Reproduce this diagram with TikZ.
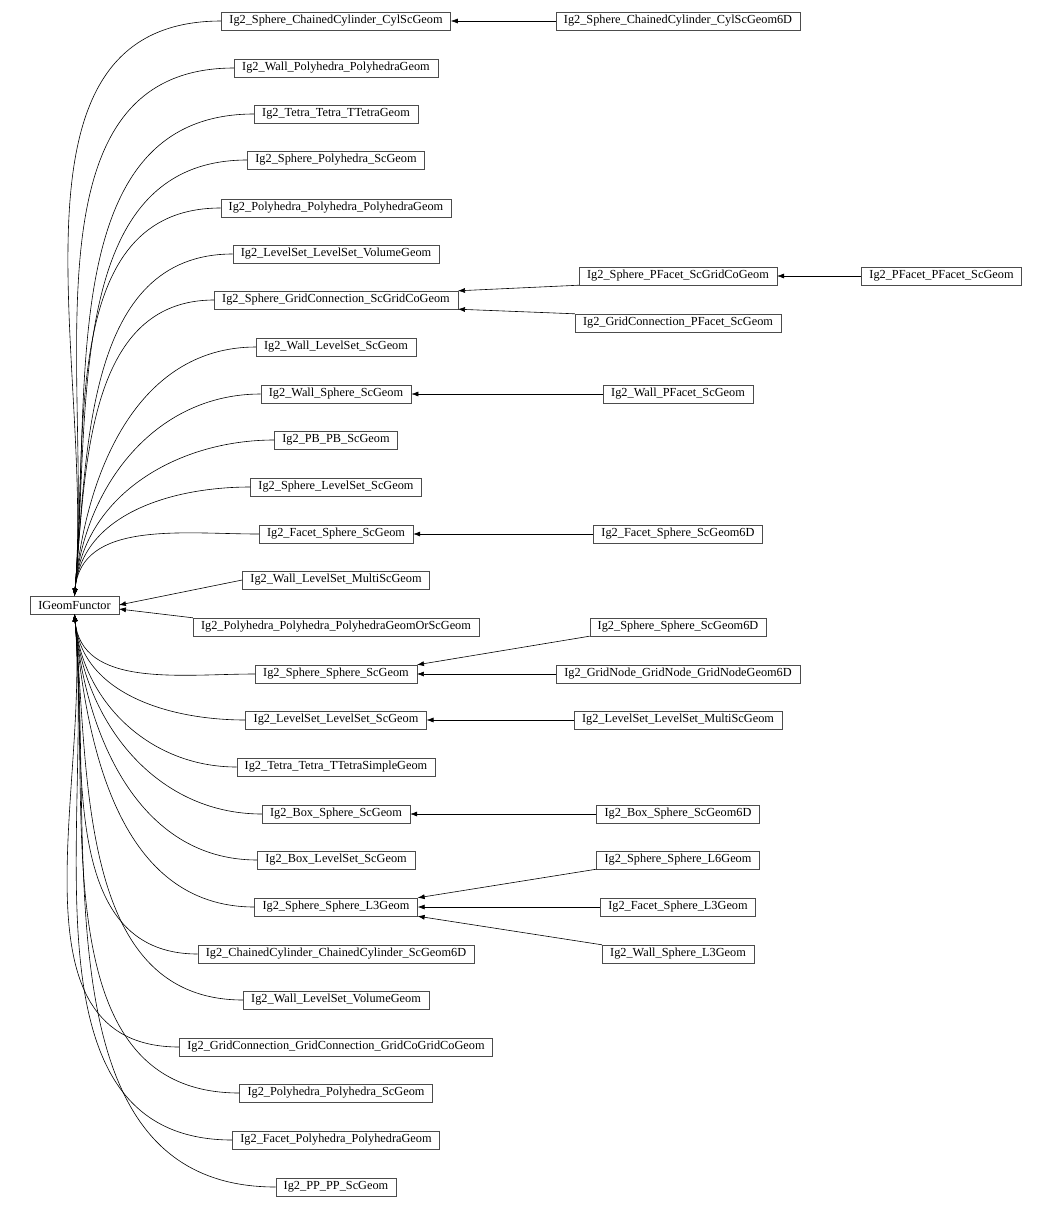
\documentclass[tikz,border=0pt]{standalone}
\usepackage{fontspec}
\setmainfont{Liberation Serif}
\usetikzlibrary{arrows.meta}
\begin{document}
\begin{tikzpicture}[x=1pt,y=-1pt,
  box/.style={draw=black!70,fill=white,font=\fontsize{12.3}{14}\selectfont,minimum height=18pt,inner xsep=8pt,inner ysep=0pt},
  arr/.style={draw=black,line width=0.6pt,-{Latex[length=7pt,width=5pt]}}]
\useasboundingbox (0,0) rectangle (1052,1210);
\node[box] (base) at (74.5,605) {IGeomFunctor};
\foreach \n/\y/\t in {a/21/Ig2\_Sphere\_ChainedCylinder\_CylScGeom,
 b/68/Ig2\_Wall\_Polyhedra\_PolyhedraGeom,
 c/114/Ig2\_Tetra\_Tetra\_TTetraGeom,
 d/160/Ig2\_Sphere\_Polyhedra\_ScGeom,
 e/208/Ig2\_Polyhedra\_Polyhedra\_PolyhedraGeom,
 f/254/Ig2\_LevelSet\_LevelSet\_VolumeGeom,
 g/300/Ig2\_Sphere\_GridConnection\_ScGridCoGeom,
 h/347/Ig2\_Wall\_LevelSet\_ScGeom,
 i/394/Ig2\_Wall\_Sphere\_ScGeom,
 j/440/Ig2\_PB\_PB\_ScGeom,
 k/487/Ig2\_Sphere\_LevelSet\_ScGeom,
 l/534/Ig2\_Facet\_Sphere\_ScGeom}
 {\node[box] (\n) at (336,\y) {\t};
  \draw[arr] (\n.west) to[out=180,in=85] (base.north);}
\foreach \n/\y/\t in {p/674/Ig2\_Sphere\_Sphere\_ScGeom,
 q/720/Ig2\_LevelSet\_LevelSet\_ScGeom,
 r/767/Ig2\_Tetra\_Tetra\_TTetraSimpleGeom,
 s/814/Ig2\_Box\_Sphere\_ScGeom,
 t/860/Ig2\_Box\_LevelSet\_ScGeom,
 u/907/Ig2\_Sphere\_Sphere\_L3Geom,
 v/954/Ig2\_ChainedCylinder\_ChainedCylinder\_ScGeom6D,
 w/1000/Ig2\_Wall\_LevelSet\_VolumeGeom,
 x/1047/Ig2\_GridConnection\_GridConnection\_GridCoGridCoGeom,
 y/1093/Ig2\_Polyhedra\_Polyhedra\_ScGeom,
 z/1140/Ig2\_Facet\_Polyhedra\_PolyhedraGeom,
 zz/1187/Ig2\_PP\_PP\_ScGeom}
 {\node[box] (\n) at (336,\y) {\t};
  \draw[arr] (\n.west) to[out=180,in=-85] (base.south);}
\node[box] (m) at (336,580) {Ig2\_Wall\_LevelSet\_MultiScGeom};
\node[box] (o) at (336,627) {Ig2\_Polyhedra\_Polyhedra\_PolyhedraGeomOrScGeom};
\draw[arr] (m.west) -- (base.east);
\draw[arr] (o.north west) -- ([yshift=-4pt]base.east);
% column 3
\node[box] (a6) at (678,21) {Ig2\_Sphere\_ChainedCylinder\_CylScGeom6D};
\node[box] (gp) at (678,276) {Ig2\_Sphere\_PFacet\_ScGridCoGeom};
\node[box] (gc) at (678,323) {Ig2\_GridConnection\_PFacet\_ScGeom};
\node[box] (iw) at (678,394) {Ig2\_Wall\_PFacet\_ScGeom};
\node[box] (l6) at (678,534) {Ig2\_Facet\_Sphere\_ScGeom6D};
\node[box] (p6) at (678,627) {Ig2\_Sphere\_Sphere\_ScGeom6D};
\node[box] (pg) at (678,674) {Ig2\_GridNode\_GridNode\_GridNodeGeom6D};
\node[box] (qm) at (678,720) {Ig2\_LevelSet\_LevelSet\_MultiScGeom};
\node[box] (s6) at (678,814) {Ig2\_Box\_Sphere\_ScGeom6D};
\node[box] (u6) at (678,860) {Ig2\_Sphere\_Sphere\_L6Geom};
\node[box] (uf) at (678,907) {Ig2\_Facet\_Sphere\_L3Geom};
\node[box] (uw) at (678,954) {Ig2\_Wall\_Sphere\_L3Geom};
\node[box] (pp) at (941.5,276) {Ig2\_PFacet\_PFacet\_ScGeom};
\draw[arr] (a6.west) -- (a.east);
\draw[arr] (gp.south west) -- (g.north east);
\draw[arr] (gc.north west) -- (g.south east);
\draw[arr] (iw.west) -- (i.east);
\draw[arr] (l6.west) -- (l.east);
\draw[arr] (p6.south west) -- (p.north east);
\draw[arr] (pg.west) -- (p.east);
\draw[arr] (qm.west) -- (q.east);
\draw[arr] (s6.west) -- (s.east);
\draw[arr] (u6.south west) -- (u.north east);
\draw[arr] (uf.west) -- (u.east);
\draw[arr] (uw.north west) -- (u.south east);
\draw[arr] (pp.west) -- (gp.east);
\end{tikzpicture}
\end{document}
